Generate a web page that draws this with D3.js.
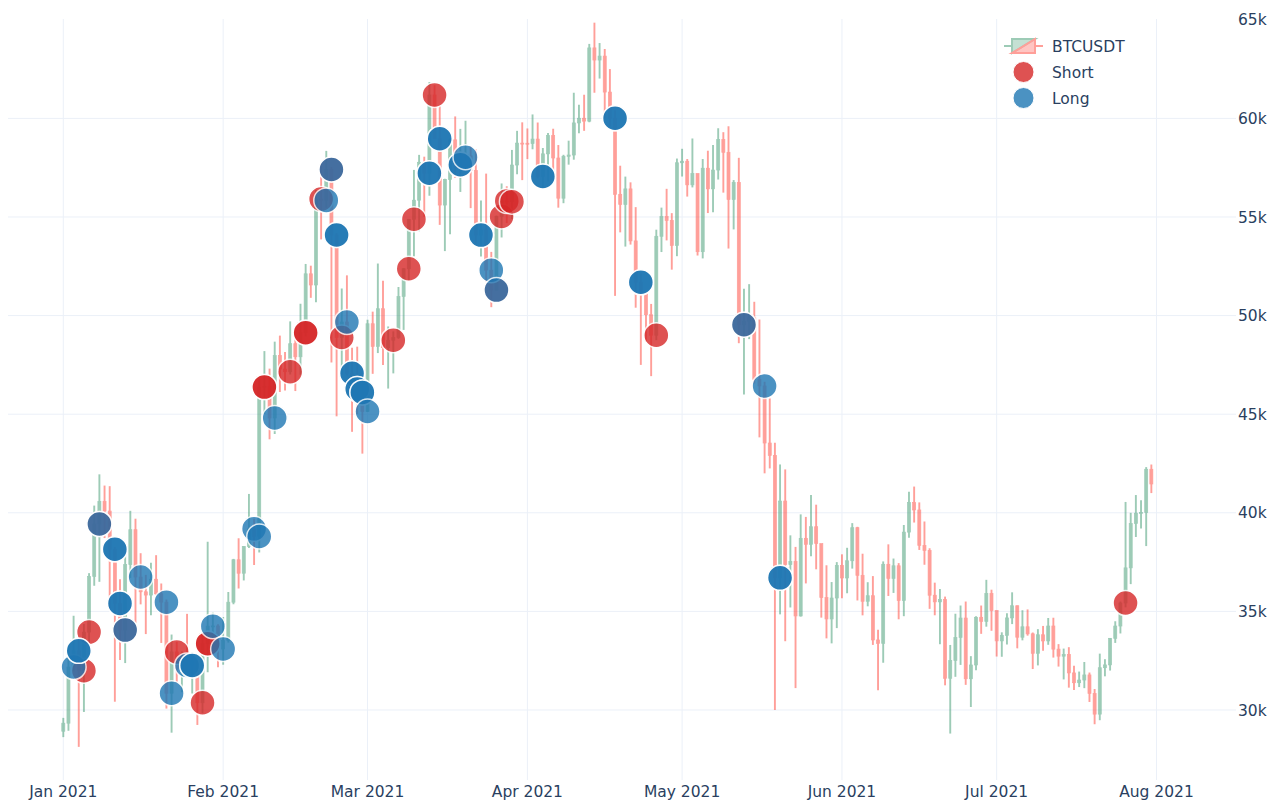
<!DOCTYPE html>
<html>
<head>
<meta charset="utf-8">
<script src="https://cdn.jsdelivr.net/npm/d3@7"></script>
<style>
  html, body { margin: 0; padding: 0; background: #fff; }
  svg { display: block; font-family: "DejaVu Sans", Verdana, Arial, sans-serif; }
</style>
</head>
<body>
<svg id="viz" width="1271" height="801"></svg>
<script>
// daily BTCUSDT candles, 2021-01-01 .. 2021-07-31
const firstDay = "2021-01-01";

const opens = [
  28923, 29331, 32178, 33000, 31988, 33949, 36769, 39432, 40582, 40088, 38150, 35404, 34051, 37371, 39144, 36742,
  35994, 35828, 36631, 35891, 35468, 30850, 32945, 32079, 32259, 32254, 32467, 30366, 33364, 34252, 34262,
  33092, 33526, 35466, 37618, 36936, 38290, 39186, 38795, 46374, 46420, 44807, 47969, 47287, 47153, 48577, 47911,
  49133, 52119, 51552, 55906, 55841, 57408, 54087, 48891, 49676, 47073, 46276, 46106,
  45135, 49587, 48440, 50349, 48374, 48751, 48882, 50971, 52375, 54884, 55851, 57773, 57221, 61188, 58968, 55605,
  56900, 58912, 57648, 58030, 58102, 57351, 54083, 54340, 52303, 51293, 55025, 55817, 55777, 57635, 58746,
  58740, 58720, 58950, 57051, 58202, 59129, 57991, 55953, 58077, 58142, 59770, 60007, 59860, 63575, 62959, 63159,
  61334, 60006, 56150, 55633, 56425, 53787, 51690, 51125, 50047, 49004, 54021, 55033, 54824, 53555,
  57750, 57828, 56631, 57200, 53241, 57473, 56428, 57380, 58928, 58280, 55883, 56750, 49537, 49716, 49880, 46760,
  46432, 43538, 42910, 36700, 40596, 37372, 37536, 34770, 38705, 38402, 39295, 38436, 35697, 34617, 35678,
  37332, 36694, 37568, 39246, 36829, 35513, 35796, 33552, 33380, 37388, 36675, 37313, 35551, 39020, 40516, 40144,
  38349, 38092, 35820, 35483, 35600, 31608, 32509, 33678, 34663, 31584, 32283, 34700, 34494, 35911,
  35045, 33504, 33786, 34669, 35287, 33690, 34220, 33862, 32875, 33815, 33502, 34259, 33086, 32729, 32820, 31880,
  31383, 31520, 31778, 30839, 29790, 32144, 32287, 33634, 34258, 35425, 37208, 39456, 39978, 40017, 42207
];

const highs = [
  29600, 33300, 34778, 33600, 34360, 36939, 40365, 41950, 41380, 41350, 38264, 36628, 37850, 40100, 39700, 37950,
  36852, 37469, 37850, 36415, 35600, 33826, 33456, 32974, 34875, 32921, 32557, 33783, 38531, 34933, 34342,
  34717, 35984, 37662, 38708, 38310, 40955, 39700, 46794, 48200, 47310, 48678, 48985, 48150, 49707, 49010,
  50600, 52618, 52530, 56368, 57700, 58352, 57533, 54183, 51374, 52041, 48370, 48424, 46638,
  49790, 50200, 52640, 51773, 49448, 49200, 51450, 52402, 54900, 57387, 58150, 58058, 61844, 61683, 60633,
  56938, 58982, 60100, 59468, 59880, 58589, 58430, 55830, 57200, 53230, 55073, 56700, 56559, 58400, 59368, 59800,
  59490, 60200, 59791, 58500, 59254, 59475, 58649, 58153, 58869, 61300, 60687, 61199, 63777, 64854, 63821,
  63520, 62500, 60408, 57600, 57048, 56757, 55500, 52131, 51167, 50591, 54356, 55475, 56428, 55195, 57963,
  58458, 57939, 58981, 57200, 57939, 58360, 58650, 59500, 59300, 59600, 56872, 58000, 51367, 51594, 50700,
  49800, 46643, 45800, 43546, 42451, 42200, 38856, 38270, 39920, 39791, 40900, 40411, 38226, 37338, 36488, 37499,
  37894, 38225, 39476, 39289, 37925, 36480, 36790, 34068, 37534, 38400, 37680, 37448, 39380, 41064, 41330,
  40527, 39559, 38202, 36457, 36137, 35750, 33298, 34881, 35298, 35500, 32730, 34749, 35297, 36600, 36100,
  35036, 33939, 34909, 35967, 35294, 35059, 35100, 33929, 34100, 34262, 34666, 34678, 33340, 33114, 33185,
  32249, 31949, 32435, 31899, 31063, 32858, 32576, 33650, 34500, 35500, 40550, 40000, 40900, 40640, 42317, 42448
];

const lows = [
  28624, 28946, 31963, 28130, 29900, 33288, 36300, 36500, 38720, 35111, 30420, 32531, 32380, 36701, 34408, 35357,
  33850, 34800, 35844, 33400, 30071, 28850, 31390, 30900, 31910, 30837, 29241, 29842, 31915, 32825, 32171,
  32296, 33418, 35362, 36161, 36570, 38215, 37351, 37988, 45020, 43727, 43994, 46125, 46202, 47014, 46174,
  47003, 48947, 50901, 50671, 53863, 55477, 47622, 44892, 47003, 46959, 44106, 45000, 43000,
  45115, 47047, 48100, 47500, 46300, 47070, 48824, 49274, 51789, 53005, 54272, 55013, 56078, 58966, 54600,
  53271, 54123, 56980, 56270, 57820, 55450, 53650, 53000, 51700, 50427, 51283, 53962, 54691, 54900, 57167, 56870,
  57935, 58434, 56956, 56478, 56800, 57352, 55473, 55700, 57654, 57906, 59247, 59369, 59805, 61301, 62020,
  60000, 59580, 51000, 54221, 53500, 53601, 50400, 47500, 48676, 46930, 48753, 53223, 53813, 52330, 53013,
  57052, 56035, 56500, 53046, 52900, 55200, 55241, 56900, 56235, 53400, 54370, 48600, 46000, 48808, 46555,
  43825, 42001, 42250, 30000, 34850, 33488, 35200, 31111, 34737, 36419, 37800, 37134, 34684, 33632, 33379, 34153,
  35666, 35920, 37170, 35555, 34800, 35258, 33300, 31000, 32396, 35782, 35936, 34600, 34757, 38730, 39506,
  38116, 37365, 35129, 34803, 33336, 31251, 28805, 31683, 32286, 31275, 30151, 32011, 33862, 34225, 34017,
  32711, 32699, 33326, 34357, 33125, 33532, 33770, 32077, 32261, 33004, 33306, 32658, 32202, 31550, 31133,
  31020, 31164, 31108, 30407, 29278, 29482, 31708, 32000, 33401, 33881, 35205, 36383, 38772, 39200, 38313, 41000
];

const closes = [
  29331, 32178, 33000, 31988, 33949, 36769, 39432, 40582, 40088, 38150, 35404, 34051, 37371, 39144, 36742, 35994,
  35828, 36631, 35891, 35468, 30850, 32945, 32079, 32259, 32254, 32467, 30366, 33364, 34252, 34262, 33092,
  33526, 35466, 37618, 36936, 38290, 39186, 38795, 46374, 46420, 44807, 47969, 47287, 47153, 48577, 47911,
  49133, 52119, 51552, 55906, 55841, 57408, 54087, 48891, 49676, 47073, 46276, 46106, 45135,
  49587, 48440, 50349, 48374, 48751, 48882, 50971, 52375, 54884, 55851, 57773, 57221, 61188, 58968, 55605,
  56900, 58912, 57648, 58030, 58102, 57351, 54083, 54340, 52303, 51293, 55025, 55817, 55777, 57635, 58746, 58740,
  58720, 58950, 57051, 58202, 59129, 57991, 55953, 58077, 58142, 59770, 60007, 59860, 63575, 62959, 63159,
  61334, 60006, 56150, 55633, 56425, 53787, 51690, 51125, 50047, 49004, 54021, 55033, 54824, 53555, 57750,
  57828, 56631, 57200, 53241, 57473, 56428, 57380, 58928, 58280, 55883, 56750, 49537, 49716, 49880, 46760,
  46432, 43538, 42910, 36700, 40596, 37372, 37536, 34770, 38705, 38402, 39295, 38436, 35697, 34617, 35678, 37332,
  36694, 37568, 39246, 36829, 35513, 35796, 33552, 33380, 37388, 36675, 37313, 35551, 39020, 40516, 40144,
  38349, 38092, 35820, 35483, 35600, 31608, 32509, 33678, 34663, 31584, 32283, 34700, 34494, 35911, 35045,
  33504, 33786, 34669, 35287, 33690, 34220, 33862, 32875, 33815, 33502, 34259, 33086, 32729, 32820, 31880,
  31383, 31520, 31778, 30839, 29790, 32144, 32287, 33634, 34258, 35425, 37208, 39456, 39978, 40017, 42207, 41461
];

// trade entries (date, entry price) -- a date listed twice = two trades there
const shorts = [
  ["2021-01-05", 31988], ["2021-01-06", 33949], ["2021-01-08", 39432], ["2021-01-13", 34051],
  ["2021-01-23", 32945], ["2021-01-28", 30366], ["2021-01-29", 33364], ["2021-01-29", 33364],
  ["2021-02-09", 46374], ["2021-02-09", 46374], ["2021-02-14", 47153], ["2021-02-17", 49133],
  ["2021-02-17", 49133], ["2021-02-20", 55906], ["2021-02-22", 57408], ["2021-02-24", 48891],
  ["2021-03-06", 48751], ["2021-03-09", 52375], ["2021-03-10", 54884], ["2021-03-14", 61188],
  ["2021-03-26", 51293], ["2021-03-27", 55025], ["2021-03-28", 55817], ["2021-03-29", 55777],
  ["2021-04-26", 49004], ["2021-05-13", 49537], ["2021-07-26", 35425]
];

const longs = [
  ["2021-01-03", 32178], ["2021-01-04", 33000], ["2021-01-04", 33000], ["2021-01-08", 39432],
  ["2021-01-11", 38150], ["2021-01-11", 38150], ["2021-01-12", 35404], ["2021-01-12", 35404],
  ["2021-01-13", 34051], ["2021-01-16", 36742], ["2021-01-21", 35468], ["2021-01-22", 30850],
  ["2021-01-25", 32259], ["2021-01-26", 32254], ["2021-01-26", 32254], ["2021-01-30", 34252],
  ["2021-02-01", 33092], ["2021-02-07", 39186], ["2021-02-08", 38795], ["2021-02-11", 44807],
  ["2021-02-21", 55841], ["2021-02-22", 57408], ["2021-02-23", 54087], ["2021-02-23", 54087],
  ["2021-02-25", 49676], ["2021-02-26", 47073], ["2021-02-26", 47073], ["2021-02-27", 46276],
  ["2021-02-27", 46276], ["2021-02-28", 46106], ["2021-02-28", 46106], ["2021-03-01", 45135],
  ["2021-03-13", 57221], ["2021-03-13", 57221], ["2021-03-15", 58968], ["2021-03-15", 58968],
  ["2021-03-19", 57648], ["2021-03-19", 57648], ["2021-03-20", 58030], ["2021-03-23", 54083],
  ["2021-03-23", 54083], ["2021-03-25", 52303], ["2021-03-26", 51293], ["2021-04-04", 57051],
  ["2021-04-04", 57051], ["2021-04-18", 60006], ["2021-04-18", 60006], ["2021-04-23", 51690],
  ["2021-04-23", 51690], ["2021-05-13", 49537], ["2021-05-17", 46432], ["2021-05-20", 36700],
  ["2021-05-20", 36700]
];

const yTicks = [30000, 35000, 40000, 45000, 50000, 55000, 60000, 65000];
const legendItems = ["BTCUSDT", "Short", "Long"];

// layout
const PLOT = { left: 8, right: 1236, top: 19, bottom: 780 };
const INC = "#3D9970", DEC = "#FF4136";
const SHORT_C = "#d62728", LONG_C = "#1f77b4";
const TXT = "#2a3f5f", GRID = "#ebf0f8";
const FONT = 15.5;

const parse = d3.utcParse("%Y-%m-%d");
const start = parse(firstDay);
const days = d3.utcDay.range(start, d3.utcDay.offset(start, closes.length));

const candles = days.map((d, i) => ({
  date: d, open: opens[i], high: highs[i], low: lows[i], close: closes[i]
}));

const x = d3.scaleUtc()
  .domain([new Date(Date.UTC(2020, 11, 21, 6, 40)), new Date(Date.UTC(2021, 7, 16, 10, 0))])
  .range([PLOT.left, PLOT.right]);

const y = d3.scaleLinear()
  .domain([26450, 65040])
  .range([PLOT.bottom, PLOT.top]);

const svg = d3.select("#viz");

// grid
const months = d3.utcMonth.range(new Date(Date.UTC(2021, 0, 1)), new Date(Date.UTC(2021, 7, 2)));

svg.append("g").attr("class", "grid-x")
  .selectAll("line").data(months).join("line")
  .attr("x1", d => x(d)).attr("x2", d => x(d))
  .attr("y1", PLOT.top).attr("y2", PLOT.bottom)
  .attr("stroke", GRID).attr("stroke-width", 1);

svg.append("g").attr("class", "grid-y")
  .selectAll("line").data(yTicks.filter(t => y(t) > PLOT.top + 2)).join("line")
  .attr("x1", PLOT.left).attr("x2", PLOT.right)
  .attr("y1", d => y(d)).attr("y2", d => y(d))
  .attr("stroke", GRID).attr("stroke-width", 1);

// axes labels
const fMonth = d3.utcFormat("%b %Y");
svg.append("g").attr("class", "x-labels")
  .selectAll("text").data(months).join("text")
  .attr("x", d => x(d)).attr("y", 797)
  .attr("text-anchor", "middle")
  .attr("font-size", FONT).attr("fill", TXT)
  .text(d => fMonth(d));

svg.append("g").attr("class", "y-labels")
  .selectAll("text").data(yTicks).join("text")
  .attr("x", PLOT.right + 2).attr("y", d => y(d))
  .attr("dy", "0.36em")
  .attr("font-size", FONT).attr("fill", TXT)
  .text(d => (d / 1000) + "k");

// candles
const BODY_W = 3;
const cg = svg.append("g").attr("class", "candles").attr("opacity", 0.5);

const cs = cg.selectAll("g").data(candles).join("g")
  .attr("fill", d => d.close >= d.open ? INC : DEC)
  .attr("stroke", d => d.close >= d.open ? INC : DEC);

cs.append("line")
  .attr("x1", d => x(d.date)).attr("x2", d => x(d.date))
  .attr("y1", d => y(d.high)).attr("y2", d => y(d.low))
  .attr("stroke-width", 1.9);

cs.append("rect")
  .attr("x", d => x(d.date) - BODY_W / 2)
  .attr("width", BODY_W)
  .attr("y", d => y(Math.max(d.open, d.close)))
  .attr("height", d => Math.max(1, Math.abs(y(d.open) - y(d.close))))
  .attr("stroke-width", 0.7);

// trade markers
function drawMarkers(data, color, cls) {
  svg.append("g").attr("class", cls)
    .selectAll("circle").data(data).join("circle")
    .attr("cx", d => x(parse(d[0])))
    .attr("cy", d => y(d[1]))
    .attr("r", 12.5)
    .attr("fill", color)
    .attr("stroke", "#fff")
    .attr("stroke-width", 1.5)
    .attr("opacity", 0.8);
}
drawMarkers(shorts, SHORT_C, "shorts");
drawMarkers(longs, LONG_C, "longs");

// legend
const lg = svg.append("g").attr("class", "legend");
const LX = 1023.5, LY = [46, 72, 98];

const icon = lg.append("g").attr("opacity", 0.5);
icon.append("path")
  .attr("d", `M${LX - 19.5},${LY[0]}H${LX - 11.5}M${LX - 11.5},${LY[0] + 7}V${LY[0] - 7}H${LX + 11.5}Z`)
  .attr("fill", INC).attr("fill-opacity", 0.6).attr("stroke", INC).attr("stroke-width", 2);
icon.append("path")
  .attr("d", `M${LX + 19.5},${LY[0]}H${LX + 11.5}M${LX + 11.5},${LY[0] - 7}V${LY[0] + 7}H${LX - 11.5}Z`)
  .attr("fill", DEC).attr("fill-opacity", 0.6).attr("stroke", DEC).attr("stroke-width", 2);

lg.selectAll("circle").data([SHORT_C, LONG_C]).join("circle")
  .attr("cx", LX).attr("cy", (d, i) => LY[i + 1])
  .attr("r", 10.5)
  .attr("fill", d => d)
  .attr("stroke", "#fff").attr("stroke-width", 1)
  .attr("opacity", 0.8);

lg.selectAll("text").data(legendItems).join("text")
  .attr("x", 1052).attr("y", (d, i) => LY[i])
  .attr("dy", "0.36em")
  .attr("font-size", FONT).attr("fill", TXT)
  .text(d => d);
</script>
</body>
</html>
